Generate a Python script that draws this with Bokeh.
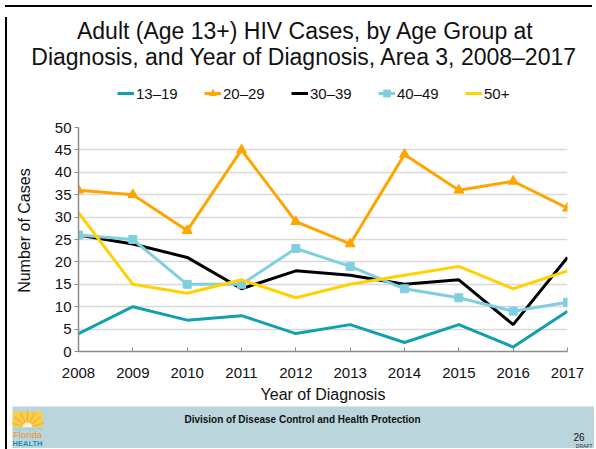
import math
from bokeh.plotting import figure
from bokeh.models import (Range1d, Legend, LegendItem, Label, FixedTicker,
                          ColumnDataSource, Div)
from bokeh.layouts import row, column
from bokeh.embed import file_html
from bokeh.resources import INLINE

years = [2008, 2009, 2010, 2011, 2012, 2013, 2014, 2015, 2016, 2017]
age_13_19 = [4, 10, 7, 8, 4, 6, 2, 6, 1, 9]
age_20_29 = [36, 35, 27, 45, 29, 24, 44, 36, 38, 32]
age_30_39 = [26, 24, 21, 14, 18, 17, 15, 16, 6, 21]
age_40_49 = [26, 25, 15, 15, 23, 19, 14, 12, 9, 11]
age_50_plus = [31, 15, 13, 16, 12, 15, 17, 19, 14, 18]
series_names = ["13\u201319", "20\u201329", "30\u201339", "40\u201349", "50+"]
y_ticks = [0, 5, 10, 15, 20, 25, 30, 35, 40, 45, 50]
title_lines = ["Adult (Age 13+) HIV Cases, by Age Group at",
               "Diagnosis, and Year of Diagnosis, Area 3, 2008\u20132017"]

FONT = "Liberation Sans"
TXT = "#111111"
colors = ["#12a1ac", "#ffa500", "#000000", "#80cfe0", "#ffd200"]
LW = 3
INNER_W = 582

src = ColumnDataSource(dict(year=years, a=age_13_19, b=age_20_29, c=age_30_39,
                            d=age_40_49, e=age_50_plus))


def bare_figure(w, h, yr):
    f = figure(width=w, height=h, output_backend="svg", toolbar_location=None,
               x_axis_type=None, y_axis_type=None,
               x_range=Range1d(0, w), y_range=yr,
               min_border=0, min_border_left=0, min_border_right=0,
               min_border_top=0, min_border_bottom=0, frame_align=False)
    f.outline_line_color = None
    f.grid.visible = False
    return f


def label(f, x, y, text, size, color=TXT, align="center", style="normal"):
    f.add_layout(Label(x=x, y=y, text=text, text_font=FONT,
                       text_font_size=size, text_align=align,
                       text_baseline="middle", text_color=color,
                       text_font_style=style))


# ---------------- header: title + legend ----------------
HEAD_H = 99
head = bare_figure(INNER_W, HEAD_H, Range1d(HEAD_H, 0))
head.border_fill_color = "white"
head.background_fill_color = "white"
label(head, 293, 18, title_lines[0], "23px")
label(head, 292, 44, title_lines[1], "23px")

# legend renderers: the same series, lying outside this header's visible range
d1 = head.line("year", "a", source=src, line_color=colors[0], line_width=LW)
d2 = head.line("year", "b", source=src, line_color=colors[1], line_width=LW)
d2m = head.scatter("year", "b", source=src, marker="triangle", size=9,
                   fill_color=colors[1], line_color=colors[1])
d3 = head.line("year", "c", source=src, line_color=colors[2], line_width=LW)
d4 = head.line("year", "d", source=src, line_color=colors[3], line_width=LW)
d4m = head.scatter("year", "d", source=src, marker="square", size=7,
                   fill_color=colors[3], line_color=colors[3])
d5 = head.line("year", "e", source=src, line_color=colors[4], line_width=LW)
legend = Legend(items=[
    LegendItem(label=series_names[0], renderers=[d1]),
    LegendItem(label=series_names[1], renderers=[d2, d2m]),
    LegendItem(label=series_names[2], renderers=[d3]),
    LegendItem(label=series_names[3], renderers=[d4, d4m]),
    LegendItem(label=series_names[4], renderers=[d5]),
], orientation="horizontal", location=(105, 8))
legend.border_line_color = None
legend.background_fill_alpha = 0
legend.padding = 0
legend.margin = 0
legend.spacing = 23
legend.glyph_width = 17
legend.glyph_height = 20
legend.label_height = 20
legend.label_width = 45
legend.label_standoff = 2
legend.label_text_font = FONT
legend.label_text_font_size = "15px"
legend.label_text_color = TXT
head.add_layout(legend, "center")

# ---------------- main chart ----------------
MAIN_H = 295
fig = figure(width=INNER_W, height=MAIN_H, output_backend="svg",
             toolbar_location=None, frame_align=False,
             x_range=Range1d(2008, 2017), y_range=Range1d(0, 50),
             min_border_left=63, min_border_right=27, min_border_top=16,
             min_border_bottom=55)
fig.outline_line_color = None
fig.background_fill_color = "white"
fig.border_fill_color = "white"
fig.xgrid.grid_line_color = None
fig.ygrid.grid_line_color = "#d9d9d9"
fig.ygrid.grid_line_width = 1.5
fig.ygrid.ticker = FixedTicker(ticks=y_ticks)
fig.xaxis.ticker = FixedTicker(ticks=years)
fig.yaxis.ticker = FixedTicker(ticks=y_ticks)
for ax in (fig.xaxis, fig.yaxis):
    ax.axis_line_color = "#8c8c8c"
    ax.axis_line_width = 1.5
    ax.major_tick_line_color = "#8c8c8c"
    ax.minor_tick_line_color = None
    ax.major_label_text_font = FONT
    ax.major_label_text_font_size = "15px"
    ax.major_label_text_color = TXT
    ax.axis_label_text_font = FONT
    ax.axis_label_text_font_size = "16px"
    ax.axis_label_text_font_style = "normal"
    ax.axis_label_text_color = TXT
fig.xaxis.major_tick_in = 4
fig.xaxis.major_tick_out = 0
fig.xaxis.major_label_standoff = 16
fig.xaxis.axis_label = "Year of Diagnosis"
fig.xaxis.axis_label_standoff = 5
fig.yaxis.major_tick_in = 0
fig.yaxis.major_tick_out = 4
fig.yaxis.major_label_standoff = 3
# leading no-break spaces nudge the rotated label up, as in the reference
fig.yaxis.axis_label = "\u00a0\u00a0\u00a0\u00a0Number of Cases"
fig.yaxis.axis_label_standoff = 19

fig.line("year", "a", source=src, line_color=colors[0], line_width=LW)
fig.line("year", "b", source=src, line_color=colors[1], line_width=LW)
fig.scatter("year", "b", source=src, marker="triangle", size=10,
            fill_color=colors[1], line_color=colors[1])
fig.line("year", "c", source=src, line_color=colors[2], line_width=LW)
fig.line("year", "d", source=src, line_color=colors[3], line_width=LW)
fig.scatter("year", "d", source=src, marker="square", size=8,
            fill_color=colors[3], line_color=colors[3])
fig.line("year", "e", source=src, line_color=colors[4], line_width=LW)

# ---------------- footer band ----------------
FOOT_H = 42
foot = bare_figure(INNER_W, FOOT_H, Range1d(FOOT_H, 0))
foot.background_fill_color = "#bad5dc"
foot.border_fill_color = "#bad5dc"
# logo
foot.quad(left=[0], right=[30], top=[5], bottom=[23], fill_color="#f9cf4a",
          line_color=None)
foot.ray(x=[15] * 7, y=[21] * 7, length=[17] * 7,
         angle=[math.radians(a) for a in (15, 40, 65, 90, 115, 140, 165)],
         line_color="#f3b43a", line_width=1.5)
foot.wedge(x=[15], y=[21], radius=[5], start_angle=[0], end_angle=[math.pi],
           fill_color="#fff7dc", line_color=None)
foot.quad(left=[0], right=[30], top=[21], bottom=[24], fill_color="#9fd3e6",
          line_color=None)
label(foot, 15, 28, "Florida", "9.5px", color="#f0902a")
label(foot, 15, 36.5, "HEALTH", "7.5px", color="#1b8db4", style="bold")
label(foot, 290, 13, "Division of Disease Control and Health Protection",
      "10px", style="bold")
label(foot, 572, 30, "26", "10px", align="right")
label(foot, 580, 39.5, "DRAFT", "5px", align="right", color="#333333")

# ---------------- page frame ----------------
def bar(w, h):
    return Div(text="", width=w, height=h,
               styles={"background-color": "black"})

inner = column(head, fig, foot, spacing=0)
framed = row(bar(2, 436), inner, bar(3, 436), spacing=0)
p = column(bar(587, 2), framed, spacing=0)

open("out.html", "w").write(file_html(p, INLINE))
